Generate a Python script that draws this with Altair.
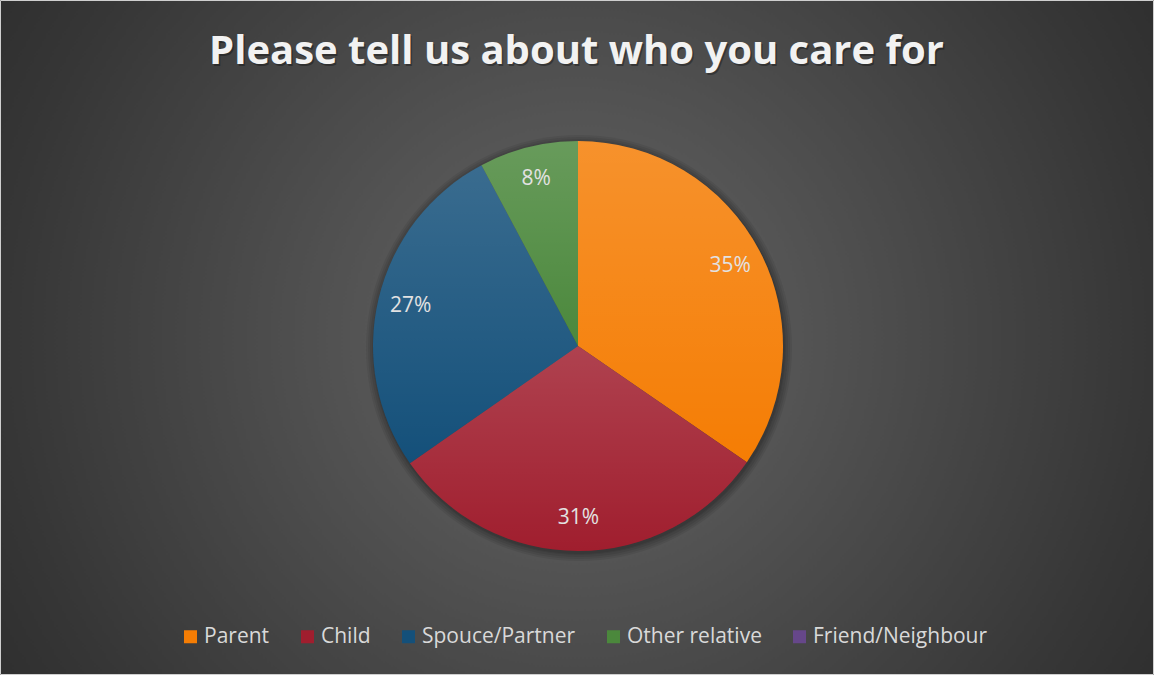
import altair as alt
import pandas as pd

# ---- data ----
categories = ["Parent", "Child", "Spouce/Partner", "Other relative", "Friend/Neighbour"]
shares = [34.6, 30.7, 26.9, 7.8, 0.0]
labels = ["35%", "31%", "27%", "8%", ""]
colors = ["#f57d04", "#a01e2e", "#14507a", "#4b883c", "#66478a"]
title_text = "Please tell us about who you care for"

df = pd.DataFrame({
    "idx": list(range(len(categories))),
    "category": categories,
    "share": shares,
    "label": labels,
})

W, H = 1154, 675
CX_OFF, CY_OFF = 1, 8.5   # pie centre offset from view centre
R = 205

one = alt.Data(values=[{}])

background = alt.Chart(one).mark_rect(
    fill=alt.Gradient(
        gradient="radial",
        stops=[
            alt.GradientStop(color="#5e5e5e", offset=0),
            alt.GradientStop(color="#555555", offset=0.25),
            alt.GradientStop(color="#363636", offset=0.69),
            alt.GradientStop(color="#242424", offset=1),
        ],
        x1=0.5, y1=0.5, r1=0, x2=0.5, y2=0.5, r2=0.72,
    ),
    stroke="#cfcfcf",
    strokeWidth=1,
).encode(
    x=alt.value(0.5), x2=alt.value(W - 0.5),
    y=alt.value(0.5), y2=alt.value(H - 0.5),
)

shadows = [
    alt.Chart(one).mark_arc(
        theta=0, theta2=6.2832, radius=R + r_add,
        xOffset=CX_OFF + 1, yOffset=CY_OFF + 2, opacity=0.07,
    ).encode(color=alt.value("#000000"))
    for r_add in (1, 2, 4, 6, 8)
]

theta = alt.Theta("share:Q", stack=True)
order = alt.Order("idx:Q", sort="ascending")

pie = alt.Chart(df).mark_arc(
    radius=R, xOffset=CX_OFF, yOffset=CY_OFF,
).encode(
    theta=theta,
    order=order,
    color=alt.Color(
        "category:N",
        scale=alt.Scale(domain=categories, range=colors),
        legend=alt.Legend(
            orient="none",
            direction="horizontal",
            legendX=180,
            legendY=626,
            title=None,
            symbolType="square",
            symbolSize=169,
            symbolStrokeWidth=0,
            labelFont="Open Sans",
            labelFontSize=21,
            labelColor="#d9d9d9",
            labelOffset=3,
            labelLimit=400,
            columnPadding=27,
            padding=0,
        ),
    ),
)

sheen = alt.Chart(df).mark_arc(
    radius=R, xOffset=CX_OFF, yOffset=CY_OFF,
    fill=alt.Gradient(
        gradient="linear",
        x1=0, x2=0, y1=0, y2=1,
        stops=[
            alt.GradientStop(color="rgba(255,255,255,0.16)", offset=0),
            alt.GradientStop(color="rgba(255,255,255,0.0)", offset=1),
        ],
    ),
).encode(theta=theta, order=order)

text = alt.Chart(df).transform_filter("datum.share > 0").mark_text(
    radius=172, xOffset=CX_OFF, yOffset=CY_OFF,
    font="Open Sans", fontSize=21, fill="#e2e2e2",
    align="center", baseline="middle",
).encode(theta=theta, order=order, text="label:N")

title_shadow = alt.Chart(one).mark_text(
    font="Open Sans", fontWeight="bold", fontSize=40,
    fill="#000000", opacity=0.3, align="center", baseline="alphabetic",
).encode(x=alt.value(578), y=alt.value(66), text=alt.value(title_text))

title = alt.Chart(one).mark_text(
    font="Open Sans", fontWeight="bold", fontSize=40,
    fill="#f2f2f2", align="center", baseline="alphabetic",
).encode(x=alt.value(576.5), y=alt.value(64), text=alt.value(title_text))

chart = alt.layer(
    background, *shadows, pie, sheen, text, title_shadow, title
).properties(
    width=W, height=H, padding=0,
    autosize=alt.AutoSizeParams(type="none"),
).configure(
    background="#2a2a2a",
).configure_view(stroke=None)

chart.save("out.html", embed_options={"renderer": "svg", "actions": False})
